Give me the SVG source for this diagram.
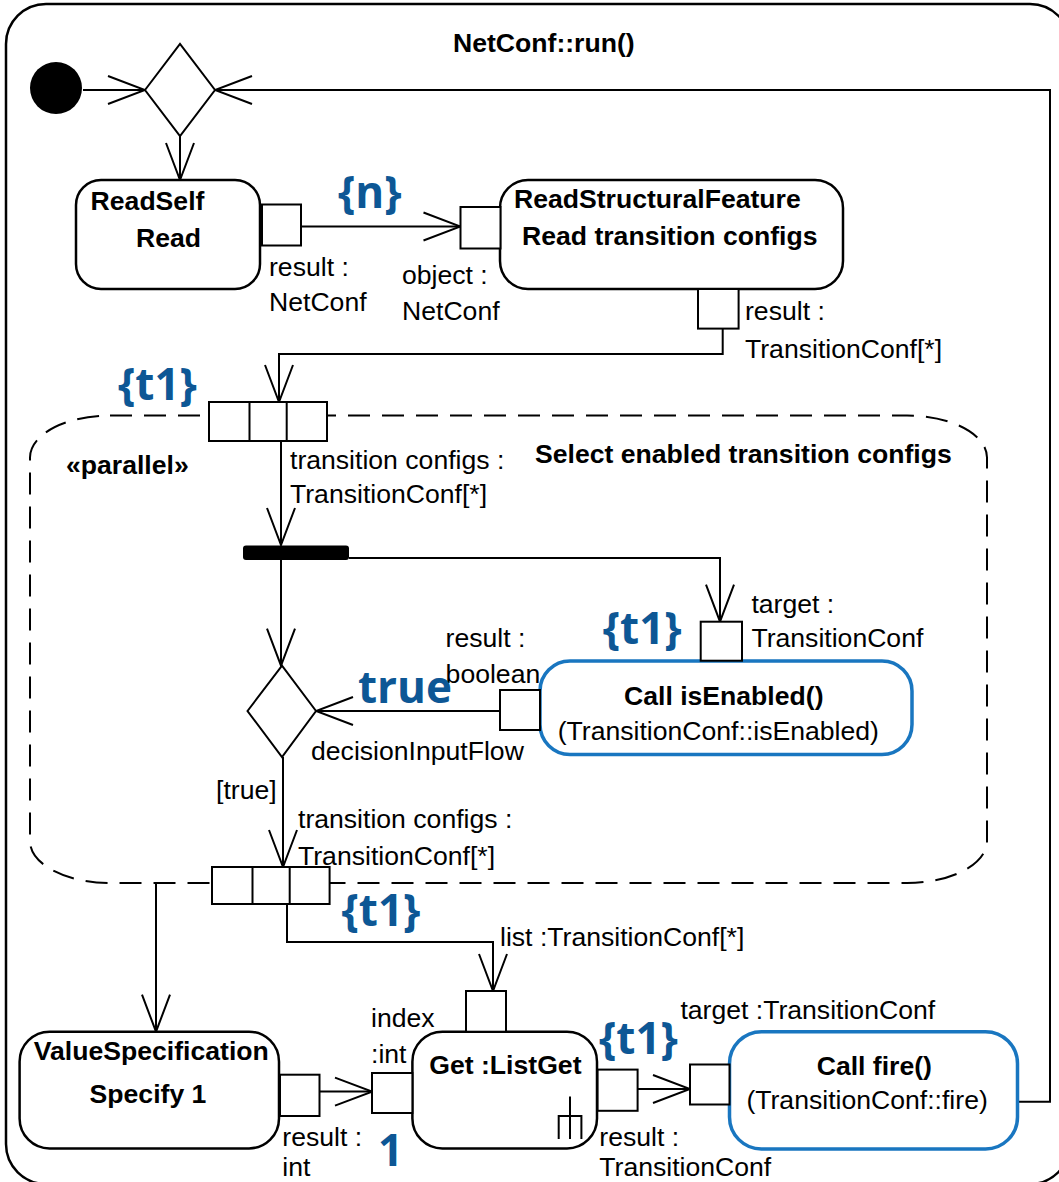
<svg xmlns="http://www.w3.org/2000/svg" width="1059" height="1182" viewBox="0 0 1059 1182">
  <style>
    .t { font-family: "Liberation Sans", Arial, sans-serif; font-size: 26.6px; fill: #000; }
    .b { font-family: "Liberation Sans", Arial, sans-serif; font-size: 26.6px; font-weight: bold; fill: #000; }
    .tag { font-family: "Open Sans", "Noto Sans", sans-serif; font-size: 44px; font-weight: bold; fill: #0d5795; }
    .node { fill: #fff; stroke: #000; stroke-width: 2.5; }
    .call { fill: #fff; stroke: #1976c0; stroke-width: 3.5; }
    .pin { fill: #fff; stroke: #000; stroke-width: 2; }
    .edge { fill: none; stroke: #000; stroke-width: 2; }
    .edge.arrow { marker-end: url(#open); }
  </style>
  <defs>
    <marker id="open" markerUnits="userSpaceOnUse" viewBox="-40 -16 42 32" markerWidth="42" markerHeight="32" refX="0" refY="0" orient="auto">
      <path d="M-37,-14 L0,0 L-37,14" fill="none" stroke="#000" stroke-width="2"/>
    </marker>
  </defs>

  <!-- activity frame -->
  <g id="frame">
    <rect x="6" y="4" width="1064" height="1180" rx="40" ry="40" fill="#fff" stroke="#000" stroke-width="2.5"/>
    <text class="b" x="453" y="52">NetConf::run()</text>
  </g>

  <!-- expansion region -->
  <g id="expansion-region">
    <rect x="30" y="415.5" width="957" height="467.5" rx="80" ry="42" fill="none" stroke="#000" stroke-width="2" stroke-dasharray="22 12"/>
    <text class="b" x="66" y="474">«parallel»</text>
    <text class="b" x="535" y="463">Select enabled transition configs</text>
  </g>

  <!-- connectors -->
  <g id="connectors">
    <path class="edge arrow" d="M83,90 H145"/>
    <path class="edge arrow" d="M1017.5,1101.7 H1050 V90 H215"/>
    <path class="edge arrow" d="M180,136 V180"/>
    <path class="edge arrow" d="M301,226.5 H460.5"/>
    <path class="edge arrow" d="M722.7,328.6 V354 H279 V402"/>
    <path class="edge arrow" d="M281,441 V545"/>
    <path class="edge arrow" d="M349,558 H720 V621.7"/>
    <path class="edge arrow" d="M281,560 V665.7"/>
    <path class="edge arrow" d="M500,711 H316"/>
    <path class="edge arrow" d="M283,757 V867"/>
    <path class="edge arrow" d="M156,884 V1031.7"/>
    <path class="edge arrow" d="M287,904 V942 H493 V991"/>
    <path class="edge arrow" d="M319.5,1091.6 H372"/>
    <path class="edge arrow" d="M637.5,1089 H690"/>
  </g>

  <!-- control nodes -->
  <g id="initial">
    <circle cx="56" cy="88" r="26" fill="#000"/>
  </g>
  <g id="merge">
    <polygon points="145,90 180,44 215,90 180,136" fill="#fff" stroke="#000" stroke-width="2"/>
  </g>
  <g id="fork">
    <rect x="243" y="545.6" width="106" height="14.4" rx="3" fill="#000"/>
  </g>
  <g id="decision">
    <polygon points="247.5,711 282,665.7 316,711 282,757" fill="#fff" stroke="#000" stroke-width="2"/>
  </g>

  <!-- actions -->
  <g id="read-self">
    <rect class="node" x="76" y="180" width="184" height="109" rx="25"/>
    <text class="b" x="90.6" y="209.6">ReadSelf</text>
    <text class="b" x="136" y="247">Read</text>
    <rect class="pin" x="262" y="204.5" width="39" height="41"/>
    <text class="t" x="269" y="275.5">result :</text>
    <text class="t" x="269" y="311">NetConf</text>
  </g>

  <g id="read-structural-feature">
    <rect class="node" x="500" y="180" width="343" height="109" rx="28"/>
    <text class="b" x="514" y="208">ReadStructuralFeature</text>
    <text class="b" x="522" y="245">Read transition configs</text>
    <rect class="pin" x="460.5" y="207" width="40" height="41.5"/>
    <text class="t" x="402" y="284">object :</text>
    <text class="t" x="402" y="319.5">NetConf</text>
    <rect class="pin" x="698" y="289" width="40.6" height="39.6"/>
    <text class="t" x="745" y="319.5">result :</text>
    <text class="t" x="745" y="358">TransitionConf[*]</text>
  </g>

  <g id="region-input">
    <rect class="pin" x="209" y="402" width="118" height="39"/>
    <path class="edge" d="M249.5,402 V441 M286.7,402 V441"/>
    <text class="t" x="290" y="468.6">transition configs :</text>
    <text class="t" x="290" y="503">TransitionConf[*]</text>
  </g>

  <g id="call-is-enabled">
    <rect class="call" x="540" y="661" width="372" height="93.6" rx="30"/>
    <text class="b" x="624" y="704.5">Call isEnabled()</text>
    <text class="t" x="557.7" y="740">(TransitionConf::isEnabled)</text>
    <rect class="pin" x="700.7" y="621.7" width="41.3" height="39"/>
    <text class="t" x="751.4" y="613">target :</text>
    <text class="t" x="751.4" y="647">TransitionConf</text>
    <rect class="pin" x="500" y="690" width="40" height="40"/>
    <text class="t" x="445.6" y="647">result :</text>
    <text class="t" x="445.6" y="682.5">boolean</text>
  </g>

  <g id="decision-labels">
    <text class="t" x="311" y="760">decisionInputFlow</text>
    <text class="t" x="216" y="799">[true]</text>
  </g>

  <g id="region-output">
    <rect class="pin" x="212" y="867" width="117.6" height="37"/>
    <path class="edge" d="M252.5,867 V904 M289.7,867 V904"/>
    <text class="t" x="298" y="828">transition configs :</text>
    <text class="t" x="298" y="865">TransitionConf[*]</text>
  </g>

  <g id="value-specification">
    <rect class="node" x="19.6" y="1031.7" width="259.4" height="116.7" rx="30"/>
    <text class="b" x="33.8" y="1060">ValueSpecification</text>
    <text class="b" x="89.6" y="1103.4">Specify 1</text>
    <rect class="pin" x="280" y="1074.7" width="39.5" height="41.3"/>
    <text class="t" x="282.3" y="1146">result :</text>
    <text class="t" x="282.3" y="1176">int</text>
  </g>

  <g id="list-get">
    <rect class="node" x="412.4" y="1031.7" width="184.6" height="116.7" rx="30"/>
    <text class="b" x="429.3" y="1073.7">Get :ListGet</text>
    <path class="edge" d="M570,1096.6 V1139 M558.7,1139 V1116 H581.4 V1139"/>
    <rect class="pin" x="466" y="991" width="40" height="40.7"/>
    <text class="t" x="500" y="946">list :TransitionConf[*]</text>
    <rect class="pin" x="372" y="1073" width="40.4" height="40"/>
    <text class="t" x="371" y="1027">index</text>
    <text class="t" x="371" y="1062.8">:int</text>
    <rect class="pin" x="597.6" y="1069.6" width="40" height="41.2"/>
    <text class="t" x="599.3" y="1146">result :</text>
    <text class="t" x="599.3" y="1176">TransitionConf</text>
  </g>

  <g id="call-fire">
    <rect class="call" x="729.5" y="1031.7" width="288" height="117.3" rx="32"/>
    <text class="b" x="816.7" y="1074.7">Call fire()</text>
    <text class="t" x="746.4" y="1108.5">(TransitionConf::fire)</text>
    <rect class="pin" x="690" y="1064.5" width="39.5" height="40"/>
    <text class="t" x="680.4" y="1019">target :TransitionConf</text>
  </g>

  <!-- stream / value annotations -->
  <g id="annotations">
    <text class="tag" x="338" y="208">{n}</text>
    <text class="tag" x="118" y="400">{t1}</text>
    <text class="tag" x="358" y="703">true</text>
    <text class="tag" x="602.7" y="644">{t1}</text>
    <text class="tag" x="341.5" y="926">{t1}</text>
    <text class="tag" x="599" y="1054">{t1}</text>
    <text class="tag" x="378" y="1166">1</text>
  </g>
</svg>
